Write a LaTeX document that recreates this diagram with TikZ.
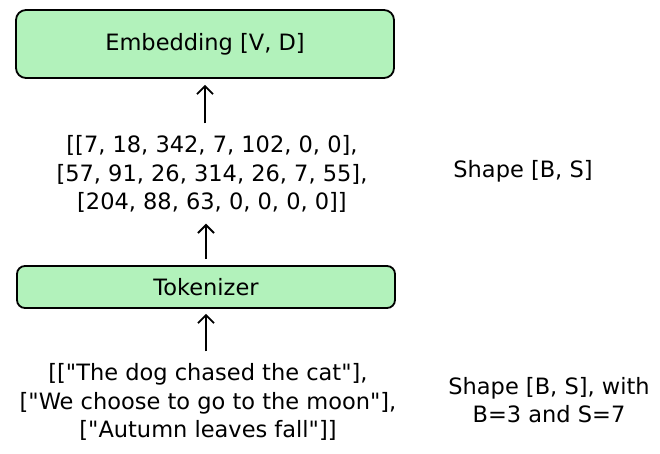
\documentclass[tikz,border=0pt]{standalone}
\usepackage{fontspec}
\setmainfont{DejaVu Sans}[Ligatures=TeXOff]
\usepackage{xcolor}
\usepackage{tikz}
\usetikzlibrary{arrows.meta, positioning, calc}
\definecolor{layergreen}{HTML}{B2F2BB}

\begin{document}
\begin{tikzpicture}[
    x=1pt, y=-1pt,
    every node/.style={font=\fontsize{22.5}{28.5}\selectfont, align=center, inner sep=0pt},
    layer/.style={rectangle, rounded corners=10pt, draw=black, line width=1.8pt, fill=layergreen,
                  minimum width=378pt},
    tensor/.style={text=black},
    note/.style={text=black},
    arrow/.style={-{Straight Barb[length=8pt, width=16pt]}, line width=1.8pt, black}
]
\useasboundingbox (0,0) rectangle (660,453);

% --- Nodes ---
\node[layer, minimum height=68pt] (embed) at (205,44) {Embedding [V, D]};
\node[tensor] (ids) at (212,174) {[[7, 18, 342, 7, 102, 0, 0],\\{}[57, 91, 26, 314, 26, 7, 55],\\{}[204, 88, 63, 0, 0, 0, 0]]};
\node[layer, minimum height=42pt, rounded corners=8pt] (tok) at (206,287) {Tokenizer};
\node[tensor] (texts) at (208,402) {[["The dog chased the cat"],\\{}["We choose to go to the moon"],\\{}["Autumn leaves fall"]]};

% --- Shapes ---
\node[note] (idshape) at (523,171) {Shape [B, S]};
\node[note] (textshape) at (549,400) {Shape [B, S], with\\ B=3 and S=7};

% --- Arrows ---
\draw[arrow, shorten <=12pt, shorten >=6pt] (ids.north -| embed.south) -- (embed.south);
\draw[arrow, shorten <=6pt, shorten >=11pt] (tok.north) -- (tok.north |- ids.south);
\draw[arrow, shorten <=12pt, shorten >=5pt] (texts.north -| tok.south) -- (tok.south);

\end{tikzpicture}
\end{document}
